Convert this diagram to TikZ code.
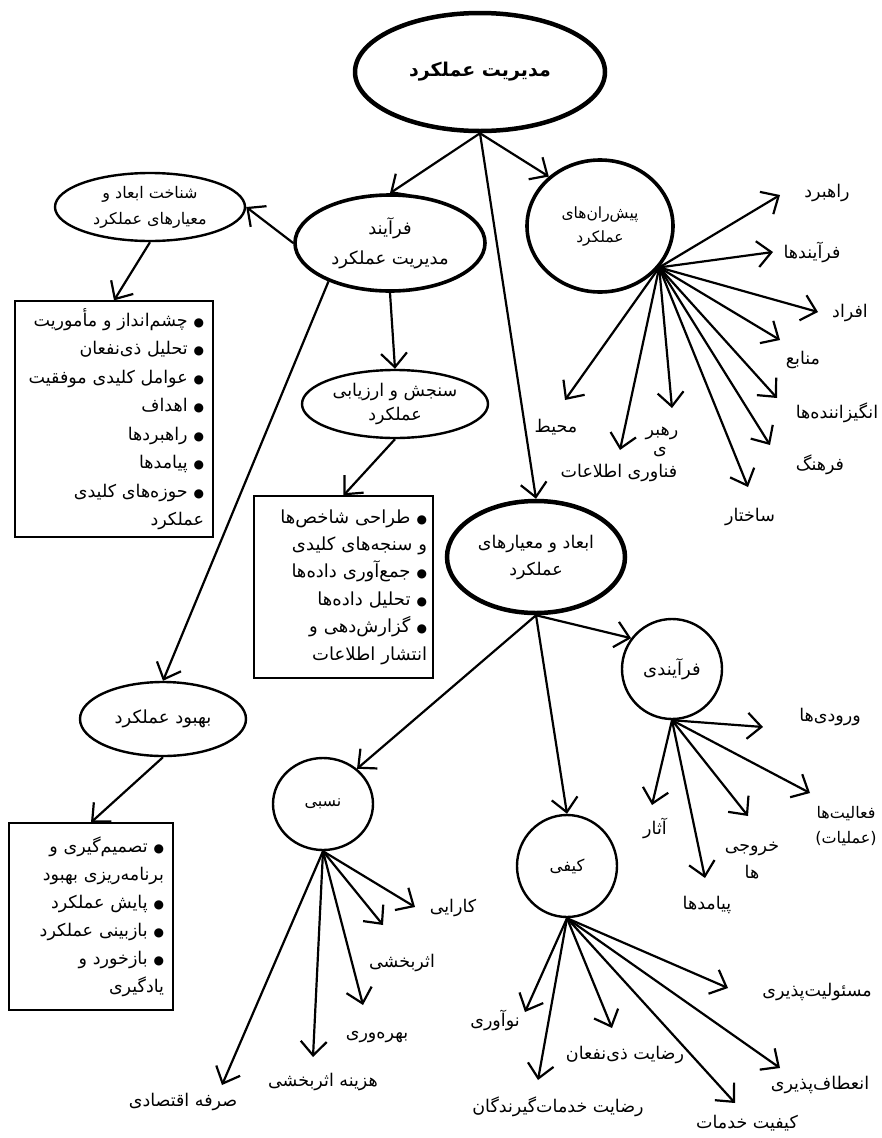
\documentclass[tikz,border=0pt]{standalone}
\usepackage{fontspec}
\usetikzlibrary{shapes.geometric,arrows.meta}
\newfontfamily\fa[Script=Arabic]{DejaVu Sans}
\TeXXeTstate=1
\newcommand{\rtl}[1]{\beginR #1\endR}
\newcommand{\blt}{{\fontsize{12}{12}\selectfont ●}}
\begin{document}
\begin{tikzpicture}[x=1pt,y=-1pt,
  every node/.style={font=\fa\fontsize{17.5}{26}\selectfont},
  ell/.style={draw, ellipse, inner sep=-4pt, align=center, line width=2.4pt},
  box/.style={draw, rectangle, line width=1.2pt, align=right, inner ysep=0pt},
  arr/.style={line width=2.2pt, -{Straight Barb[length=14pt,width=26pt]}},
  lbl/.style={inner sep=1pt, align=center}]
\useasboundingbox[fill=white] (0,0) rectangle (882,1138);

% main nodes
\node[ell, line width=4.5pt, minimum width=250pt, minimum height=118pt, font=\fa\bfseries\fontsize{19}{22}\selectfont] (mm) at (480,72) {\rtl{مدیریت عملکرد}};
\node[ell, line width=3.6pt, minimum width=190pt, minimum height=96pt, font=\fa\fontsize{18}{30}\selectfont] (proc) at (390,243) {\rtl{فرآیند}\\\rtl{مدیریت عملکرد}};
\node[ell, line width=3.6pt, minimum width=146pt, minimum height=132pt, font=\fa\fontsize{15.5}{24}\selectfont] (dr) at (600,226) {\rtl{پیش‌ران‌های}\\\rtl{عملکرد}};
\node[ell, minimum width=190pt, minimum height=68pt, font=\fa\fontsize{16}{26}\selectfont] (shn) at (150,207) {\rtl{شناخت ابعاد و}\\\rtl{معیارهای عملکرد}};
\node[ell, minimum width=186pt, minimum height=68pt, font=\fa\fontsize{17.5}{24}\selectfont] (ses) at (395,404) {\rtl{سنجش و ارزیابی}\\\rtl{عملکرد}};
\node[ell, line width=4.5pt, minimum width=178pt, minimum height=112pt, font=\fa\fontsize{17.5}{27}\selectfont] (dim) at (536,557) {\rtl{ابعاد و معیارهای}\\\rtl{عملکرد}};
\node[ell, minimum width=166pt, minimum height=74pt, font=\fa\fontsize{18}{26}\selectfont] (beh) at (163,719) {\rtl{بهبود عملکرد}};
\node[ell, minimum width=100pt, minimum height=100pt, font=\fa\fontsize{18}{26}\selectfont] (fra) at (672,669) {\rtl{فرآیندی}};
\node[ell, minimum width=100pt, minimum height=92pt, font=\fa\fontsize{16}{20}\selectfont] (nsb) at (323,804) {\rtl{نسبی}};
\node[ell, minimum width=100pt, minimum height=102pt, font=\fa\fontsize{16.5}{20}\selectfont] (kyf) at (567,866) {\rtl{کیفی}};

% boxes
\node[box, inner xsep=9pt, text width=180pt, minimum width=198pt, minimum height=236pt, font=\fa\fontsize{17.5}{28.5}\selectfont] (b1) at (114,419) {%
\rtl{\blt\ چشم‌انداز و مأموریت}\\
\rtl{\blt\ تحلیل ذی‌نفعان}\\
\rtl{\blt\ عوامل کلیدی موفقیت}\\
\rtl{\blt\ اهداف}\\
\rtl{\blt\ راهبردها}\\
\rtl{\blt\ پیامدها}\\
\rtl{\blt\ حوزه‌های کلیدی}\\
\rtl{عملکرد}};
\node[box, inner xsep=6pt, text width=167pt, minimum width=179pt, minimum height=182pt, font=\fa\fontsize{18}{27.4}\selectfont] (b2) at (343.5,587) {%
\rtl{\blt\ طراحی شاخص‌ها}\\
\rtl{و سنجه‌های کلیدی}\\
\rtl{\blt\ جمع‌آوری داده‌ها}\\
\rtl{\blt\ تحلیل داده‌ها}\\
\rtl{\blt\ گزارش‌دهی و}\\
\rtl{انتشار اطلاعات}};
\node[box, inner xsep=9pt, text width=146pt, minimum width=164pt, minimum height=187pt, font=\fa\fontsize{17.5}{28}\selectfont] (b3) at (91,916.5) {%
\rtl{\blt\ تصمیم‌گیری و}\\
\rtl{برنامه‌ریزی بهبود}\\
\rtl{\blt\ پایش عملکرد}\\
\rtl{\blt\ بازبینی عملکرد}\\
\rtl{\blt\ بازخورد و}\\
\rtl{یادگیری}};

% main connectors
\draw[arr] (mm.south) -- (proc.north);
\draw[arr] (mm.south) -- (dr.136);
\draw[arr] (mm.south) -- (dim.north);
\draw[arr] (proc.west) -- (shn.east);
\draw[arr] (shn.south) -- (b1.north);
\draw[arr] (proc.south) -- (ses.north);
\draw[arr] (proc.212) -- (beh.north);
\draw[arr] (ses.south) -- (b2.north);
\draw[arr] (beh.south) -- (b3.north);
\draw[arr] (dim.south) -- (fra.143);
\draw[arr] (dim.south) -- (nsb.46);
\draw[arr] (dim.south) -- (kyf.north);

% drivers
\node[lbl] (l-rahbord) at (827,193) {\rtl{راهبرد}};
\node[lbl] (l-farayandha) at (812,252) {\rtl{فرآیندها}};
\node[lbl] (l-afrad) at (850,313) {\rtl{افراد}};
\node[lbl] (l-manabe) at (803,360) {\rtl{منابع}};
\node[lbl] (l-angiz) at (837,413) {\rtl{انگیزاننده‌ها}};
\node[lbl] (l-farhang) at (820,465) {\rtl{فرهنگ}};
\node[lbl] (l-sakhtar) at (750,517) {\rtl{ساختار}};
\node[lbl] (l-rahbar) at (662,433) {\rtl{رهبر}};
\node[lbl] (l-ye) at (660,452) {\rtl{ی}};
\node[lbl] (l-fanavari) at (619,473) {\rtl{فناوری اطلاعات}};
\node[lbl] (l-mohit) at (556,427) {\rtl{محیط}};
\coordinate (t-rahbord) at (780,195);
\coordinate (t-farayandha) at (773,252);
\coordinate (t-afrad) at (818,312);
\coordinate (t-manabe) at (780,340);
\coordinate (t-angiz) at (777,398);
\coordinate (t-farhang) at (770,445);
\coordinate (t-sakhtar) at (748,487);
\coordinate (t-rahbar) at (672,408);
\coordinate (t-fanavari) at (620,450);
\coordinate (t-mohit) at (565,400);
\foreach \t in {rahbord,farayandha,afrad,manabe,angiz,farhang,sakhtar,rahbar,fanavari,mohit}
  \draw[arr] (dr.-35) -- (t-\t);

% process dimension
\node[lbl] (l-vorudi) at (830,717) {\rtl{ورودی‌ها}};
\node[lbl, font=\fa\fontsize{16}{25}\selectfont] (l-faaliat) at (846,826) {\rtl{فعالیت‌ها}\\\rtl{(عملیات)}};
\node[lbl, font=\fa\fontsize{17.5}{27}\selectfont] (l-khoruji) at (752,861) {\rtl{خروجی}\\\rtl{ها}};
\node[lbl] (l-asar) at (655,828) {\rtl{آثار}};
\node[lbl] (l-payamad) at (707,905) {\rtl{پیامدها}};
\coordinate (t-vorudi) at (763,727);
\coordinate (t-faaliat) at (810,793);
\coordinate (t-khoruji) at (748,816);
\coordinate (t-asar) at (652,805);
\coordinate (t-payamad) at (705,878);
\foreach \t in {vorudi,faaliat,khoruji,asar,payamad}
  \draw[arr] (fra.south) -- (t-\t);

% relative
\node[lbl] (l-karayi) at (453,908) {\rtl{کارایی}};
\node[lbl] (l-asarb) at (402,963) {\rtl{اثربخشی}};
\node[lbl] (l-bahre) at (377,1037) {\rtl{بهره‌وری}};
\node[lbl] (l-hazine) at (323,1082) {\rtl{هزینه اثربخشی}};
\node[lbl] (l-sarfe) at (183,1102) {\rtl{صرفه اقتصادی}};
\coordinate (t-karayi) at (415,907);
\coordinate (t-asarb) at (383,925);
\coordinate (t-bahre) at (363,1005);
\coordinate (t-hazine) at (313,1057);
\coordinate (t-sarfe) at (222,1085);
\foreach \t in {karayi,asarb,bahre,hazine,sarfe}
  \draw[arr] (nsb.south) -- (t-\t);

% qualitative
\node[lbl] (l-masul) at (817,992) {\rtl{مسئولیت‌پذیری}};
\node[lbl] (l-enetaf) at (820,1085) {\rtl{انعطاف‌پذیری}};
\node[lbl] (l-keyfiat) at (747,1123) {\rtl{کیفیت خدمات}};
\node[lbl] (l-rezazi) at (625,1055) {\rtl{رضایت ذی‌نفعان}};
\node[lbl] (l-rezakh) at (558,1107) {\rtl{رضایت خدمات‌گیرندگان}};
\node[lbl] (l-noavari) at (495,1020) {\rtl{نوآوری}};
\coordinate (t-masul) at (728,988);
\coordinate (t-enetaf) at (780,1068);
\coordinate (t-keyfiat) at (735,1103);
\coordinate (t-rezazi) at (612,1028);
\coordinate (t-rezakh) at (538,1080);
\coordinate (t-noavari) at (525,1012);
\foreach \t in {masul,enetaf,keyfiat,rezazi,rezakh,noavari}
  \draw[arr] (kyf.south) -- (t-\t);
\end{tikzpicture}
\end{document}
